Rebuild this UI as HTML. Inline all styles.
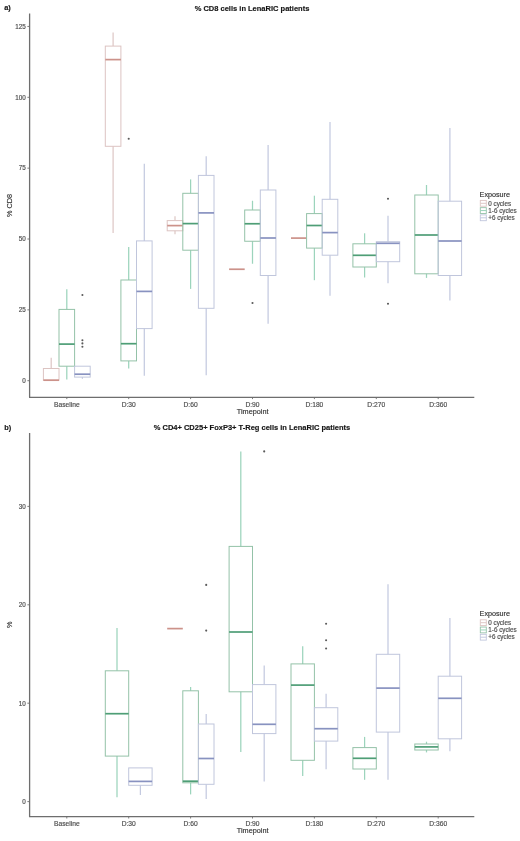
<!DOCTYPE html>
<html><head><meta charset="utf-8"><style>
html,body{margin:0;padding:0;background:#fff;}
body{width:520px;height:841px;overflow:hidden;}
svg{display:block;font-family:"Liberation Sans", sans-serif;filter:blur(0.35px);}
text{stroke:#5a5a5a;stroke-width:0.18px;}
</style></head><body>
<svg width="520" height="841" viewBox="0 0 520 841">
<rect width="520" height="841" fill="#fff"/>
<text x="252" y="10.5" font-weight="bold" font-size="7.5" text-anchor="middle" fill="#111" style="stroke:#222;stroke-width:0.15px">% CD8 cells in LenaRIC patients</text>
<text x="4.2" y="10.3" font-weight="bold" font-size="7.4" fill="#111" style="stroke:#222;stroke-width:0.15px">a)</text>
<line x1="29.6" y1="13.6" x2="29.6" y2="397.3" stroke="#6e6e6e" stroke-width="1.3"/>
<line x1="29" y1="397.3" x2="474.3" y2="397.3" stroke="#6e6e6e" stroke-width="1.3"/>
<line x1="27.4" y1="380.7" x2="29.6" y2="380.7" stroke="#6e6e6e" stroke-width="0.9"/>
<text x="25.8" y="383" font-size="6.3" text-anchor="end" fill="#4a4a4a">0</text>
<line x1="27.4" y1="309.85" x2="29.6" y2="309.85" stroke="#6e6e6e" stroke-width="0.9"/>
<text x="25.8" y="312.15" font-size="6.3" text-anchor="end" fill="#4a4a4a">25</text>
<line x1="27.4" y1="239" x2="29.6" y2="239" stroke="#6e6e6e" stroke-width="0.9"/>
<text x="25.8" y="241.3" font-size="6.3" text-anchor="end" fill="#4a4a4a">50</text>
<line x1="27.4" y1="168.15" x2="29.6" y2="168.15" stroke="#6e6e6e" stroke-width="0.9"/>
<text x="25.8" y="170.45" font-size="6.3" text-anchor="end" fill="#4a4a4a">75</text>
<line x1="27.4" y1="97.3" x2="29.6" y2="97.3" stroke="#6e6e6e" stroke-width="0.9"/>
<text x="25.8" y="99.6" font-size="6.3" text-anchor="end" fill="#4a4a4a">100</text>
<line x1="27.4" y1="26.45" x2="29.6" y2="26.45" stroke="#6e6e6e" stroke-width="0.9"/>
<text x="25.8" y="28.75" font-size="6.3" text-anchor="end" fill="#4a4a4a">125</text>
<line x1="66.8" y1="397.3" x2="66.8" y2="399.1" stroke="#6e6e6e" stroke-width="0.9"/>
<text x="66.8" y="406.9" font-size="6.7" text-anchor="middle" fill="#4a4a4a">Baseline</text>
<line x1="128.7" y1="397.3" x2="128.7" y2="399.1" stroke="#6e6e6e" stroke-width="0.9"/>
<text x="128.7" y="406.9" font-size="6.7" text-anchor="middle" fill="#4a4a4a">D:30</text>
<line x1="190.6" y1="397.3" x2="190.6" y2="399.1" stroke="#6e6e6e" stroke-width="0.9"/>
<text x="190.6" y="406.9" font-size="6.7" text-anchor="middle" fill="#4a4a4a">D:60</text>
<line x1="252.5" y1="397.3" x2="252.5" y2="399.1" stroke="#6e6e6e" stroke-width="0.9"/>
<text x="252.5" y="406.9" font-size="6.7" text-anchor="middle" fill="#4a4a4a">D:90</text>
<line x1="314.4" y1="397.3" x2="314.4" y2="399.1" stroke="#6e6e6e" stroke-width="0.9"/>
<text x="314.4" y="406.9" font-size="6.7" text-anchor="middle" fill="#4a4a4a">D:180</text>
<line x1="376.3" y1="397.3" x2="376.3" y2="399.1" stroke="#6e6e6e" stroke-width="0.9"/>
<text x="376.3" y="406.9" font-size="6.7" text-anchor="middle" fill="#4a4a4a">D:270</text>
<line x1="438.2" y1="397.3" x2="438.2" y2="399.1" stroke="#6e6e6e" stroke-width="0.9"/>
<text x="438.2" y="406.9" font-size="6.7" text-anchor="middle" fill="#4a4a4a">D:360</text>
<text x="252.7" y="413.9" font-size="7.3" text-anchor="middle" fill="#222">Timepoint</text>
<text x="0" y="0" font-size="7.3" text-anchor="middle" fill="#222" transform="translate(12.2 205.45) rotate(-90)">% CD8</text>
<line x1="51.2" y1="357.8" x2="51.2" y2="368.5" stroke="#dec8c6" stroke-width="1.25"/>
<rect x="43.4" y="368.5" width="15.6" height="11.7" fill="none" stroke="#dcc4c2" stroke-width="1"/>
<line x1="43.4" y1="380.2" x2="59" y2="380.2" stroke="#cc928a" stroke-width="1.7"/>
<line x1="66.8" y1="289.2" x2="66.8" y2="309.4" stroke="#9cd4bc" stroke-width="1.25"/>
<line x1="66.8" y1="366.2" x2="66.8" y2="379.4" stroke="#9cd4bc" stroke-width="1.25"/>
<rect x="59" y="309.4" width="15.6" height="56.8" fill="none" stroke="#94c2a8" stroke-width="1"/>
<line x1="59" y1="344.1" x2="74.6" y2="344.1" stroke="#4e9e76" stroke-width="1.7"/>
<line x1="82.4" y1="377.1" x2="82.4" y2="378.8" stroke="#c4cae0" stroke-width="1.25"/>
<rect x="74.6" y="366.2" width="15.6" height="10.9" fill="none" stroke="#c0c6dc" stroke-width="1"/>
<line x1="74.6" y1="374.2" x2="90.2" y2="374.2" stroke="#8892c0" stroke-width="1.7"/>
<circle cx="82.4" cy="295" r="1.05" fill="#5a5a5a"/>
<circle cx="82.4" cy="340.2" r="1.05" fill="#5a5a5a"/>
<circle cx="82.4" cy="343.4" r="1.05" fill="#5a5a5a"/>
<circle cx="82.4" cy="346.7" r="1.05" fill="#5a5a5a"/>
<line x1="113.1" y1="32.4" x2="113.1" y2="46.1" stroke="#dec8c6" stroke-width="1.25"/>
<line x1="113.1" y1="146.3" x2="113.1" y2="232.9" stroke="#dec8c6" stroke-width="1.25"/>
<rect x="105.3" y="46.1" width="15.6" height="100.2" fill="none" stroke="#dcc4c2" stroke-width="1"/>
<line x1="105.3" y1="59.6" x2="120.9" y2="59.6" stroke="#cc928a" stroke-width="1.7"/>
<line x1="128.7" y1="247.1" x2="128.7" y2="280" stroke="#9cd4bc" stroke-width="1.25"/>
<line x1="128.7" y1="360.9" x2="128.7" y2="368.6" stroke="#9cd4bc" stroke-width="1.25"/>
<rect x="120.9" y="280" width="15.6" height="80.9" fill="none" stroke="#94c2a8" stroke-width="1"/>
<line x1="120.9" y1="343.7" x2="136.5" y2="343.7" stroke="#4e9e76" stroke-width="1.7"/>
<circle cx="128.7" cy="138.8" r="1.05" fill="#5a5a5a"/>
<line x1="144.3" y1="163.7" x2="144.3" y2="240.9" stroke="#c4cae0" stroke-width="1.25"/>
<line x1="144.3" y1="328.6" x2="144.3" y2="375.7" stroke="#c4cae0" stroke-width="1.25"/>
<rect x="136.5" y="240.9" width="15.6" height="87.7" fill="none" stroke="#c0c6dc" stroke-width="1"/>
<line x1="136.5" y1="291.4" x2="152.1" y2="291.4" stroke="#8892c0" stroke-width="1.7"/>
<line x1="175" y1="216.3" x2="175" y2="220.6" stroke="#dec8c6" stroke-width="1.25"/>
<line x1="175" y1="230.8" x2="175" y2="234.2" stroke="#dec8c6" stroke-width="1.25"/>
<rect x="167.2" y="220.6" width="15.6" height="10.2" fill="none" stroke="#dcc4c2" stroke-width="1"/>
<line x1="167.2" y1="225.6" x2="182.8" y2="225.6" stroke="#cc928a" stroke-width="1.7"/>
<line x1="190.6" y1="179.4" x2="190.6" y2="193.3" stroke="#9cd4bc" stroke-width="1.25"/>
<line x1="190.6" y1="250.2" x2="190.6" y2="288.9" stroke="#9cd4bc" stroke-width="1.25"/>
<rect x="182.8" y="193.3" width="15.6" height="56.9" fill="none" stroke="#94c2a8" stroke-width="1"/>
<line x1="182.8" y1="223.6" x2="198.4" y2="223.6" stroke="#4e9e76" stroke-width="1.7"/>
<line x1="206.2" y1="156.3" x2="206.2" y2="175.4" stroke="#c4cae0" stroke-width="1.25"/>
<line x1="206.2" y1="308.3" x2="206.2" y2="375.3" stroke="#c4cae0" stroke-width="1.25"/>
<rect x="198.4" y="175.4" width="15.6" height="132.9" fill="none" stroke="#c0c6dc" stroke-width="1"/>
<line x1="198.4" y1="212.9" x2="214" y2="212.9" stroke="#8892c0" stroke-width="1.7"/>
<line x1="229.1" y1="269.25" x2="244.7" y2="269.25" stroke="#cc928a" stroke-width="1.7"/>
<line x1="252.5" y1="200.75" x2="252.5" y2="210" stroke="#9cd4bc" stroke-width="1.25"/>
<line x1="252.5" y1="241.25" x2="252.5" y2="263.75" stroke="#9cd4bc" stroke-width="1.25"/>
<rect x="244.7" y="210" width="15.6" height="31.25" fill="none" stroke="#94c2a8" stroke-width="1"/>
<line x1="244.7" y1="223.75" x2="260.3" y2="223.75" stroke="#4e9e76" stroke-width="1.7"/>
<circle cx="252.5" cy="303" r="1.05" fill="#5a5a5a"/>
<line x1="268.1" y1="145" x2="268.1" y2="190" stroke="#c4cae0" stroke-width="1.25"/>
<line x1="268.1" y1="275.5" x2="268.1" y2="323.75" stroke="#c4cae0" stroke-width="1.25"/>
<rect x="260.3" y="190" width="15.6" height="85.5" fill="none" stroke="#c0c6dc" stroke-width="1"/>
<line x1="260.3" y1="238" x2="275.9" y2="238" stroke="#8892c0" stroke-width="1.7"/>
<line x1="291" y1="238.1" x2="306.6" y2="238.1" stroke="#cc928a" stroke-width="1.7"/>
<line x1="314.4" y1="195.7" x2="314.4" y2="213.6" stroke="#9cd4bc" stroke-width="1.25"/>
<line x1="314.4" y1="248.1" x2="314.4" y2="280.2" stroke="#9cd4bc" stroke-width="1.25"/>
<rect x="306.6" y="213.6" width="15.6" height="34.5" fill="none" stroke="#94c2a8" stroke-width="1"/>
<line x1="306.6" y1="225.5" x2="322.2" y2="225.5" stroke="#4e9e76" stroke-width="1.7"/>
<line x1="330" y1="121.9" x2="330" y2="199.3" stroke="#c4cae0" stroke-width="1.25"/>
<line x1="330" y1="255.2" x2="330" y2="295.7" stroke="#c4cae0" stroke-width="1.25"/>
<rect x="322.2" y="199.3" width="15.6" height="55.9" fill="none" stroke="#c0c6dc" stroke-width="1"/>
<line x1="322.2" y1="232.6" x2="337.8" y2="232.6" stroke="#8892c0" stroke-width="1.7"/>
<line x1="364.6" y1="233.3" x2="364.6" y2="243.8" stroke="#9cd4bc" stroke-width="1.25"/>
<line x1="364.6" y1="267" x2="364.6" y2="277.5" stroke="#9cd4bc" stroke-width="1.25"/>
<rect x="352.9" y="243.8" width="23.4" height="23.2" fill="none" stroke="#94c2a8" stroke-width="1"/>
<line x1="352.9" y1="255.3" x2="376.3" y2="255.3" stroke="#4e9e76" stroke-width="1.7"/>
<line x1="388" y1="215.8" x2="388" y2="241.7" stroke="#c4cae0" stroke-width="1.25"/>
<line x1="388" y1="261.7" x2="388" y2="283.3" stroke="#c4cae0" stroke-width="1.25"/>
<rect x="376.3" y="241.7" width="23.4" height="20" fill="none" stroke="#c0c6dc" stroke-width="1"/>
<line x1="376.3" y1="243.3" x2="399.7" y2="243.3" stroke="#8892c0" stroke-width="1.7"/>
<circle cx="388" cy="198.7" r="1.05" fill="#5a5a5a"/>
<circle cx="388" cy="303.7" r="1.05" fill="#5a5a5a"/>
<line x1="426.5" y1="185" x2="426.5" y2="195" stroke="#9cd4bc" stroke-width="1.25"/>
<line x1="426.5" y1="273.8" x2="426.5" y2="277.9" stroke="#9cd4bc" stroke-width="1.25"/>
<rect x="414.8" y="195" width="23.4" height="78.8" fill="none" stroke="#94c2a8" stroke-width="1"/>
<line x1="414.8" y1="235" x2="438.2" y2="235" stroke="#4e9e76" stroke-width="1.7"/>
<line x1="449.9" y1="127.9" x2="449.9" y2="201.2" stroke="#c4cae0" stroke-width="1.25"/>
<line x1="449.9" y1="275.5" x2="449.9" y2="300.5" stroke="#c4cae0" stroke-width="1.25"/>
<rect x="438.2" y="201.2" width="23.4" height="74.3" fill="none" stroke="#c0c6dc" stroke-width="1"/>
<line x1="438.2" y1="241" x2="461.6" y2="241" stroke="#8892c0" stroke-width="1.7"/>
<text x="479.6" y="196.7" font-size="7.2" fill="#222">Exposure</text>
<rect x="480.3" y="200.4" width="6" height="5.8" fill="none" stroke="#dcc4c2" stroke-width="0.9"/>
<line x1="480.3" y1="203.3" x2="486.3" y2="203.3" stroke="#dec8c6" stroke-width="1"/>
<text x="488.3" y="205.5" font-size="6.3" fill="#4a4a4a">0 cycles</text>
<rect x="480.3" y="207.65" width="6" height="5.8" fill="none" stroke="#94c2a8" stroke-width="0.9"/>
<line x1="480.3" y1="210.55" x2="486.3" y2="210.55" stroke="#9cd4bc" stroke-width="1"/>
<text x="488.3" y="212.75" font-size="6.3" fill="#4a4a4a">1-6 cycles</text>
<rect x="480.3" y="214.9" width="6" height="5.8" fill="none" stroke="#c0c6dc" stroke-width="0.9"/>
<line x1="480.3" y1="217.8" x2="486.3" y2="217.8" stroke="#c4cae0" stroke-width="1"/>
<text x="488.3" y="220" font-size="6.3" fill="#4a4a4a">+6 cycles</text>
<text x="252" y="429.9" font-weight="bold" font-size="7.5" text-anchor="middle" fill="#111" style="stroke:#222;stroke-width:0.15px">% CD4+ CD25+ FoxP3+ T-Reg cells in LenaRIC patients</text>
<text x="4.2" y="429.7" font-weight="bold" font-size="7.4" fill="#111" style="stroke:#222;stroke-width:0.15px">b)</text>
<line x1="29.6" y1="433" x2="29.6" y2="816.7" stroke="#6e6e6e" stroke-width="1.3"/>
<line x1="29" y1="816.7" x2="474.3" y2="816.7" stroke="#6e6e6e" stroke-width="1.3"/>
<line x1="27.4" y1="801.6" x2="29.6" y2="801.6" stroke="#6e6e6e" stroke-width="0.9"/>
<text x="25.8" y="803.9" font-size="6.3" text-anchor="end" fill="#4a4a4a">0</text>
<line x1="27.4" y1="703.2" x2="29.6" y2="703.2" stroke="#6e6e6e" stroke-width="0.9"/>
<text x="25.8" y="705.5" font-size="6.3" text-anchor="end" fill="#4a4a4a">10</text>
<line x1="27.4" y1="604.8" x2="29.6" y2="604.8" stroke="#6e6e6e" stroke-width="0.9"/>
<text x="25.8" y="607.1" font-size="6.3" text-anchor="end" fill="#4a4a4a">20</text>
<line x1="27.4" y1="506.4" x2="29.6" y2="506.4" stroke="#6e6e6e" stroke-width="0.9"/>
<text x="25.8" y="508.7" font-size="6.3" text-anchor="end" fill="#4a4a4a">30</text>
<line x1="66.8" y1="816.7" x2="66.8" y2="818.5" stroke="#6e6e6e" stroke-width="0.9"/>
<text x="66.8" y="826.3" font-size="6.7" text-anchor="middle" fill="#4a4a4a">Baseline</text>
<line x1="128.7" y1="816.7" x2="128.7" y2="818.5" stroke="#6e6e6e" stroke-width="0.9"/>
<text x="128.7" y="826.3" font-size="6.7" text-anchor="middle" fill="#4a4a4a">D:30</text>
<line x1="190.6" y1="816.7" x2="190.6" y2="818.5" stroke="#6e6e6e" stroke-width="0.9"/>
<text x="190.6" y="826.3" font-size="6.7" text-anchor="middle" fill="#4a4a4a">D:60</text>
<line x1="252.5" y1="816.7" x2="252.5" y2="818.5" stroke="#6e6e6e" stroke-width="0.9"/>
<text x="252.5" y="826.3" font-size="6.7" text-anchor="middle" fill="#4a4a4a">D:90</text>
<line x1="314.4" y1="816.7" x2="314.4" y2="818.5" stroke="#6e6e6e" stroke-width="0.9"/>
<text x="314.4" y="826.3" font-size="6.7" text-anchor="middle" fill="#4a4a4a">D:180</text>
<line x1="376.3" y1="816.7" x2="376.3" y2="818.5" stroke="#6e6e6e" stroke-width="0.9"/>
<text x="376.3" y="826.3" font-size="6.7" text-anchor="middle" fill="#4a4a4a">D:270</text>
<line x1="438.2" y1="816.7" x2="438.2" y2="818.5" stroke="#6e6e6e" stroke-width="0.9"/>
<text x="438.2" y="826.3" font-size="6.7" text-anchor="middle" fill="#4a4a4a">D:360</text>
<text x="252.7" y="833.3" font-size="7.3" text-anchor="middle" fill="#222">Timepoint</text>
<text x="0" y="0" font-size="7.3" text-anchor="middle" fill="#222" transform="translate(12.2 624.85) rotate(-90)">%</text>
<line x1="117" y1="627.9" x2="117" y2="670.8" stroke="#9cd4bc" stroke-width="1.25"/>
<line x1="117" y1="756.1" x2="117" y2="797.2" stroke="#9cd4bc" stroke-width="1.25"/>
<rect x="105.3" y="670.8" width="23.4" height="85.3" fill="none" stroke="#94c2a8" stroke-width="1"/>
<line x1="105.3" y1="713.7" x2="128.7" y2="713.7" stroke="#4e9e76" stroke-width="1.7"/>
<line x1="140.4" y1="785.3" x2="140.4" y2="795" stroke="#c4cae0" stroke-width="1.25"/>
<rect x="128.7" y="767.9" width="23.4" height="17.4" fill="none" stroke="#c0c6dc" stroke-width="1"/>
<line x1="128.7" y1="781.4" x2="152.1" y2="781.4" stroke="#8892c0" stroke-width="1.7"/>
<line x1="167.2" y1="628.6" x2="182.8" y2="628.6" stroke="#cc928a" stroke-width="1.7"/>
<line x1="190.6" y1="687" x2="190.6" y2="690.8" stroke="#9cd4bc" stroke-width="1.25"/>
<line x1="190.6" y1="782.8" x2="190.6" y2="794.4" stroke="#9cd4bc" stroke-width="1.25"/>
<rect x="182.8" y="690.8" width="15.6" height="92" fill="none" stroke="#94c2a8" stroke-width="1"/>
<line x1="182.8" y1="781.2" x2="198.4" y2="781.2" stroke="#4e9e76" stroke-width="1.7"/>
<line x1="206.2" y1="714" x2="206.2" y2="724" stroke="#c4cae0" stroke-width="1.25"/>
<line x1="206.2" y1="784.3" x2="206.2" y2="799" stroke="#c4cae0" stroke-width="1.25"/>
<rect x="198.4" y="724" width="15.6" height="60.3" fill="none" stroke="#c0c6dc" stroke-width="1"/>
<line x1="198.4" y1="758.5" x2="214" y2="758.5" stroke="#8892c0" stroke-width="1.7"/>
<circle cx="206.2" cy="584.9" r="1.05" fill="#5a5a5a"/>
<circle cx="206.2" cy="630.6" r="1.05" fill="#5a5a5a"/>
<line x1="240.8" y1="451.4" x2="240.8" y2="546.4" stroke="#9cd4bc" stroke-width="1.25"/>
<line x1="240.8" y1="691.8" x2="240.8" y2="752.1" stroke="#9cd4bc" stroke-width="1.25"/>
<rect x="229.1" y="546.4" width="23.4" height="145.4" fill="none" stroke="#94c2a8" stroke-width="1"/>
<line x1="229.1" y1="632" x2="252.5" y2="632" stroke="#4e9e76" stroke-width="1.7"/>
<line x1="264.2" y1="665.4" x2="264.2" y2="684.6" stroke="#c4cae0" stroke-width="1.25"/>
<line x1="264.2" y1="733.6" x2="264.2" y2="781.6" stroke="#c4cae0" stroke-width="1.25"/>
<rect x="252.5" y="684.6" width="23.4" height="49" fill="none" stroke="#c0c6dc" stroke-width="1"/>
<line x1="252.5" y1="724.3" x2="275.9" y2="724.3" stroke="#8892c0" stroke-width="1.7"/>
<circle cx="264.2" cy="451.4" r="1.05" fill="#5a5a5a"/>
<line x1="302.7" y1="646.3" x2="302.7" y2="663.9" stroke="#9cd4bc" stroke-width="1.25"/>
<line x1="302.7" y1="760.3" x2="302.7" y2="776.1" stroke="#9cd4bc" stroke-width="1.25"/>
<rect x="291" y="663.9" width="23.4" height="96.4" fill="none" stroke="#94c2a8" stroke-width="1"/>
<line x1="291" y1="685.1" x2="314.4" y2="685.1" stroke="#4e9e76" stroke-width="1.7"/>
<line x1="326.1" y1="693.7" x2="326.1" y2="707.7" stroke="#c4cae0" stroke-width="1.25"/>
<line x1="326.1" y1="741.1" x2="326.1" y2="769.3" stroke="#c4cae0" stroke-width="1.25"/>
<rect x="314.4" y="707.7" width="23.4" height="33.4" fill="none" stroke="#c0c6dc" stroke-width="1"/>
<line x1="314.4" y1="728.7" x2="337.8" y2="728.7" stroke="#8892c0" stroke-width="1.7"/>
<circle cx="326.1" cy="623.7" r="1.05" fill="#5a5a5a"/>
<circle cx="326.1" cy="640.2" r="1.05" fill="#5a5a5a"/>
<circle cx="326.1" cy="648.5" r="1.05" fill="#5a5a5a"/>
<line x1="364.6" y1="736.9" x2="364.6" y2="747.6" stroke="#9cd4bc" stroke-width="1.25"/>
<line x1="364.6" y1="769" x2="364.6" y2="779.8" stroke="#9cd4bc" stroke-width="1.25"/>
<rect x="352.9" y="747.6" width="23.4" height="21.4" fill="none" stroke="#94c2a8" stroke-width="1"/>
<line x1="352.9" y1="758.3" x2="376.3" y2="758.3" stroke="#4e9e76" stroke-width="1.7"/>
<line x1="388" y1="584.2" x2="388" y2="654.3" stroke="#c4cae0" stroke-width="1.25"/>
<line x1="388" y1="732.1" x2="388" y2="779.8" stroke="#c4cae0" stroke-width="1.25"/>
<rect x="376.3" y="654.3" width="23.4" height="77.8" fill="none" stroke="#c0c6dc" stroke-width="1"/>
<line x1="376.3" y1="688.1" x2="399.7" y2="688.1" stroke="#8892c0" stroke-width="1.7"/>
<line x1="426.5" y1="741.7" x2="426.5" y2="744" stroke="#9cd4bc" stroke-width="1.25"/>
<line x1="426.5" y1="750" x2="426.5" y2="752.4" stroke="#9cd4bc" stroke-width="1.25"/>
<rect x="414.8" y="744" width="23.4" height="6" fill="none" stroke="#94c2a8" stroke-width="1"/>
<line x1="414.8" y1="746.9" x2="438.2" y2="746.9" stroke="#4e9e76" stroke-width="1.7"/>
<line x1="449.9" y1="617.9" x2="449.9" y2="676.2" stroke="#c4cae0" stroke-width="1.25"/>
<line x1="449.9" y1="738.8" x2="449.9" y2="751.2" stroke="#c4cae0" stroke-width="1.25"/>
<rect x="438.2" y="676.2" width="23.4" height="62.6" fill="none" stroke="#c0c6dc" stroke-width="1"/>
<line x1="438.2" y1="698.3" x2="461.6" y2="698.3" stroke="#8892c0" stroke-width="1.7"/>
<text x="479.6" y="616.1" font-size="7.2" fill="#222">Exposure</text>
<rect x="480.3" y="619.8" width="6" height="5.8" fill="none" stroke="#dcc4c2" stroke-width="0.9"/>
<line x1="480.3" y1="622.7" x2="486.3" y2="622.7" stroke="#dec8c6" stroke-width="1"/>
<text x="488.3" y="624.9" font-size="6.3" fill="#4a4a4a">0 cycles</text>
<rect x="480.3" y="627.05" width="6" height="5.8" fill="none" stroke="#94c2a8" stroke-width="0.9"/>
<line x1="480.3" y1="629.95" x2="486.3" y2="629.95" stroke="#9cd4bc" stroke-width="1"/>
<text x="488.3" y="632.15" font-size="6.3" fill="#4a4a4a">1-6 cycles</text>
<rect x="480.3" y="634.3" width="6" height="5.8" fill="none" stroke="#c0c6dc" stroke-width="0.9"/>
<line x1="480.3" y1="637.2" x2="486.3" y2="637.2" stroke="#c4cae0" stroke-width="1"/>
<text x="488.3" y="639.4" font-size="6.3" fill="#4a4a4a">+6 cycles</text>
</svg>
</body></html>
